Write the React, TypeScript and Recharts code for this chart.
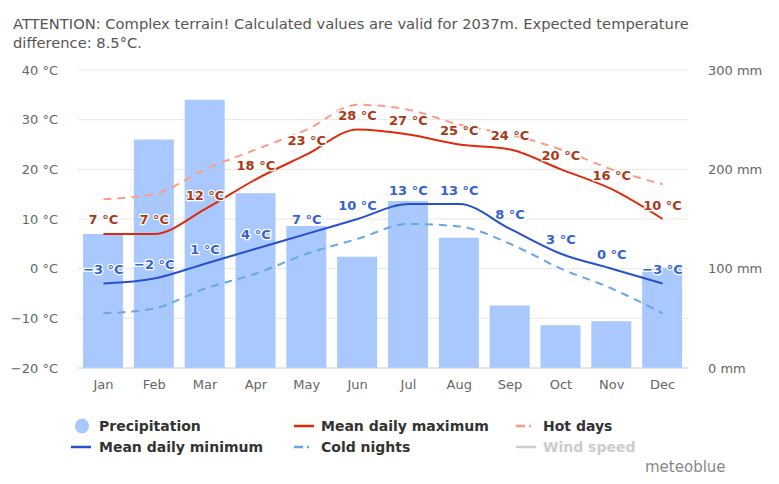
import { ComposedChart, Bar, Line, XAxis, YAxis, CartesianGrid, LabelList } from 'recharts';

const months = ['Jan', 'Feb', 'Mar', 'Apr', 'May', 'Jun', 'Jul', 'Aug', 'Sep', 'Oct', 'Nov', 'Dec'];
const precipitation = [135, 230, 270, 176, 143, 112, 168, 131, 63, 43, 47, 101];
const meanMax = [7, 7, 12, 18, 23, 28, 27, 25, 24, 20, 16, 10];
const meanMin = [-3, -2, 1, 4, 7, 10, 13, 13, 8, 3, 0, -3];
const hotDays = [14, 15, 20, 24, 28, 33, 32, 29, 27, 24, 20, 17];
const coldNights = [-9, -8, -4, -1, 3, 6, 9, 8.5, 5, 0, -4, -9];
const tempTicks = [-20, -10, 0, 10, 20, 30, 40];
const precTicks = [0, 100, 200, 300];

const data = months.map((m, i) => ({
  month: m,
  precipitation: precipitation[i],
  max: meanMax[i],
  min: meanMin[i],
  hot: hotDays[i],
  cold: coldNights[i],
}));

const fmtTemp = (v: number) => `${v < 0 ? '\u2212' + Math.abs(v) : v} °C`;

const makeLabel = (color: string) => (props: any) => {
  const { x, y, value } = props;
  return (
    <text
      x={x}
      y={y - 9.5}
      textAnchor="middle"
      fill={color}
      stroke="#fff"
      strokeWidth={2.5}
      paintOrder="stroke"
      fontSize={13}
      fontWeight="bold"
      fontFamily="DejaVu Sans"
    >
      {fmtTemp(value)}
    </text>
  );
};

const legendText: React.CSSProperties = {
  position: 'absolute',
  fontFamily: 'DejaVu Sans',
  fontWeight: 'bold',
  fontSize: 14,
  color: '#333',
  lineHeight: '16px',
};

function LineIcon({ left, top, color, dash }: { left: number; top: number; color: string; dash?: string }) {
  return (
    <svg style={{ position: 'absolute', left, top }} width={22} height={6}>
      <line x1={1} y1={3} x2={21} y2={3} stroke={color} strokeWidth={2.5} strokeDasharray={dash} />
    </svg>
  );
}

export default function App() {
  return (
    <div style={{ position: 'absolute', left: 0, top: 0, width: 779, height: 484, background: '#fff', overflow: 'hidden' }}>
      <div
        style={{
          position: 'absolute',
          left: 13,
          top: 15,
          width: 760,
          fontFamily: 'DejaVu Sans',
          fontSize: 14.7,
          lineHeight: '18.5px',
          color: '#555',
          whiteSpace: 'nowrap',
        }}
      >
        ATTENTION: Complex terrain! Calculated values are valid for 2037m. Expected temperature
        <br />
        difference: 8.5°C.
      </div>
      <div style={{ position: 'absolute', left: 0, top: 0 }}>
        <ComposedChart width={779} height={400} data={data} margin={{ top: 70, right: 0, left: 0, bottom: 0 }}>
          <CartesianGrid yAxisId="temp" vertical={false} stroke="#e6e6e6" />
          <XAxis
            dataKey="month"
            height={32}
            tickLine={false}
            tickSize={0}
            tickMargin={12}
            axisLine={{ stroke: '#ccd6eb' }}
            tick={{ fill: '#666', fontSize: 13, fontFamily: 'DejaVu Sans' }}
          />
          <YAxis
            yAxisId="temp"
            orientation="left"
            width={78}
            domain={[-20, 40]}
            ticks={tempTicks}
            axisLine={false}
            tickLine={false}
            tickSize={0}
            tickMargin={20}
            tickFormatter={fmtTemp}
            tick={{ fill: '#666', fontSize: 13, fontFamily: 'DejaVu Sans' }}
          />
          <YAxis
            yAxisId="prec"
            orientation="right"
            width={91}
            domain={[0, 300]}
            ticks={precTicks}
            axisLine={false}
            tickLine={false}
            tickSize={0}
            tickMargin={20}
            tickFormatter={(v: number) => `${v} mm`}
            tick={{ fill: '#666', fontSize: 13, fontFamily: 'DejaVu Sans', textAnchor: 'start' }}
          />
          <Bar yAxisId="prec" dataKey="precipitation" fill="#a9c8fd" barSize={40} isAnimationActive={false} />
          <Line yAxisId="temp" type="monotone" dataKey="cold" stroke="#66a6ea" strokeWidth={2} strokeDasharray="8 6" dot={false} isAnimationActive={false} />
          <Line yAxisId="temp" type="monotone" dataKey="hot" stroke="#ff9a88" strokeWidth={2} strokeDasharray="8 6" dot={false} isAnimationActive={false} />
          <Line yAxisId="temp" type="monotone" dataKey="min" stroke="#2552cc" strokeWidth={2} dot={false} isAnimationActive={false}>
            <LabelList dataKey="min" content={makeLabel('#3461d6')} />
          </Line>
          <Line yAxisId="temp" type="monotone" dataKey="max" stroke="#e02a0b" strokeWidth={2} dot={false} isAnimationActive={false}>
            <LabelList dataKey="max" content={makeLabel('#a83a17')} />
          </Line>
        </ComposedChart>
      </div>

      <svg style={{ position: 'absolute', left: 74, top: 418 }} width={16} height={16}>
        <ellipse cx={8} cy={8} rx={7} ry={7.5} fill="#a9c8fd" />
      </svg>
      <div style={{ ...legendText, left: 99, top: 418 }}>Precipitation</div>
      <LineIcon left={293} top={423} color="#e02a0b" />
      <div style={{ ...legendText, left: 321, top: 418 }}>Mean daily maximum</div>
      <LineIcon left={515} top={423} color="#ff9a88" dash="9 4 2 20" />
      <div style={{ ...legendText, left: 543, top: 418 }}>Hot days</div>

      <LineIcon left={70} top={444} color="#2552cc" />
      <div style={{ ...legendText, left: 99, top: 439 }}>Mean daily minimum</div>
      <LineIcon left={293} top={444} color="#66a6ea" dash="9 4 2 20" />
      <div style={{ ...legendText, left: 321, top: 439 }}>Cold nights</div>
      <LineIcon left={515} top={444} color="#cccccc" />
      <div style={{ ...legendText, left: 543, top: 439, color: '#ccc' }}>Wind speed</div>

      <div
        style={{
          position: 'absolute',
          left: 645,
          top: 458,
          fontFamily: 'DejaVu Sans',
          fontSize: 15,
          color: '#888',
        }}
      >
        meteoblue
      </div>
    </div>
  );
}
